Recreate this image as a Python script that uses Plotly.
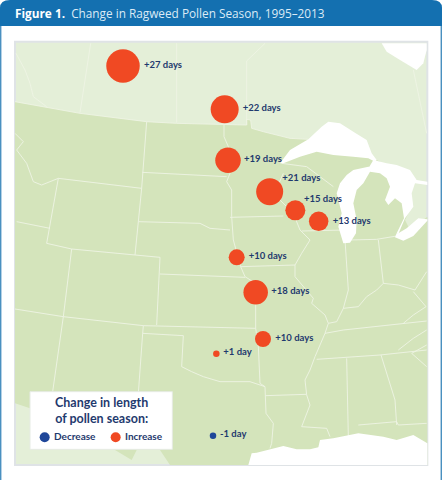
'''
ragweed pollen season map, drawn on a plain xy canvas (units are 1/3 of a pixel)
'''
import plotly.graph_objects as go

### SITES ###
site_names = ['Saskatoon', 'Winnipeg', 'Fargo', 'Minneapolis', 'La Crosse', 'Madison',
              'Omaha', 'Kansas City', 'Rogers', 'Oklahoma City', 'Georgetown']
site_days = [27, 22, 19, 21, 15, 13, 10, 18, 10, 1, -1]
site_labels = ['+27 days', '+22 days', '+19 days', '+21 days', '+15 days', '+13 days',
               '+10 days', '+18 days', '+10 days', '+1 day', '-1 day']
site_x = [369, 674, 684, 809, 886, 956, 710, 767, 789, 649, 639]
site_y = [198, 328, 481, 575, 631, 664, 772, 877, 1017, 1061, 1307]
site_diameter = [33.5, 28, 25.5, 27, 20, 19.5, 16, 24.5, 16, 6.5, 6.5]
label_x = [432, 728, 732, 847, 912, 998, 746, 814, 826, 670, 660]
label_y = [198, 327, 480, 537, 598, 664, 771, 876, 1016, 1059, 1305]

### LAND AND WATER OUTLINES ###
us_x = [45, 240, 440, 530, 740, 740, 752, 755, 790, 830, 870, 925, 965, 1100, 1125, 1160, 1200,
        1225, 1215, 1230, 1282, 1282, 510, 480, 410, 395, 345, 90, 45]
us_y = [305, 340, 365, 370, 375, 358, 360, 385, 395, 405, 415, 418, 440, 460, 478, 495, 560,
        640, 660, 690, 650, 1395, 1395, 1350, 1350, 1380, 1350, 1225, 1210]
superior_x = [840, 870, 925, 965, 985, 1020, 1060, 1100, 1115, 1130, 1125, 1105, 1060, 1000, 950, 900, 850]
superior_y = [490, 450, 418, 380, 365, 370, 395, 420, 460, 480, 485, 475, 470, 465, 455, 470, 490]
michigan_huron_x = [1105, 1060, 1040, 1020, 1010, 1020, 1025, 1015, 1030, 1050, 1068, 1070, 1060,
                    1070, 1090, 1110, 1140, 1160, 1170, 1155, 1165, 1185, 1205, 1212, 1190, 1195,
                    1215, 1240, 1235, 1245, 1282, 1282, 1250, 1230, 1190, 1160, 1120, 1108]
michigan_huron_y = [500, 510, 525, 550, 580, 615, 640, 680, 730, 728, 700, 660, 610,
                    570, 550, 515, 520, 535, 560, 600, 615, 595, 610, 655, 700, 702,
                    655, 620, 580, 550, 555, 545, 540, 510, 495, 490, 480, 500]
erie_x = [1190, 1185, 1210, 1240, 1282, 1282, 1255, 1220, 1195]
erie_y = [700, 712, 722, 708, 662, 658, 655, 685, 700]
hudson_x = [1145, 1160, 1200, 1250, 1270, 1280, 1280]
hudson_y = [130, 155, 180, 210, 190, 150, 130]
gulf_x = [745, 755, 770, 800, 850, 890, 930, 955, 960, 1000, 1075, 1150, 1190, 1240, 1282, 1282]
gulf_y = [1395, 1360, 1358, 1350, 1338, 1348, 1348, 1342, 1320, 1315, 1300, 1310, 1320, 1305, 1330, 1395]

### BORDERS ###
borders = [
    # canada
    ([48, 75, 90, 100, 140], [160, 210, 250, 290, 320]),
    ([272, 240], [130, 338]),
    ([530, 530], [130, 368]),
    ([795, 740, 740], [130, 183, 375]),
    ([1240, 1280], [210, 400]),
    # us-canada line
    ([45, 240, 440, 530, 740, 740, 752, 755, 790, 830, 870, 925], [305, 340, 365, 370, 375, 358, 360, 385, 395, 405, 415, 418]),
    # west
    ([45, 70, 50, 80, 100, 125, 150, 175], [400, 425, 450, 490, 545, 555, 545, 535]),
    ([175, 425], [535, 565]),
    ([175, 150, 140, 215], [535, 680, 730, 747]),
    ([50, 150], [665, 685]),
    ([215, 405, 480], [747, 765, 772]),
    ([215, 190, 158], [747, 950, 1175]),
    ([45, 190, 430, 767], [927, 950, 977, 985]),
    ([440, 425, 415, 405], [365, 565, 665, 765]),
    ([427, 680], [517, 530]),
    ([415, 600, 630, 690], [665, 670, 685, 690]),
    ([480, 470], [772, 975]),
    ([480, 735], [822, 832]),
    # oklahoma and texas
    ([430, 428, 550, 545, 575, 610, 660, 700, 750, 795], [977, 1000, 1007, 1100, 1115, 1130, 1145, 1145, 1145, 1160]),
    ([428, 415], [1000, 1180]),
    ([767, 767, 775, 780, 795, 798, 820, 815, 810], [850, 985, 1040, 1150, 1160, 1240, 1270, 1330, 1345]),
    ([797, 918], [1187, 1183]),
    # upper midwest
    ([672, 672, 685, 690, 680, 695, 695, 700, 722, 735, 767], [375, 410, 440, 520, 545, 570, 650, 720, 800, 830, 850]),
    ([690, 850], [652, 648]),
    ([850, 840, 830, 840, 880, 900, 930, 905, 885, 885, 910, 940, 935, 975, 985, 975, 945, 930, 915, 920, 930, 905, 980, 990],
     [520, 540, 565, 600, 640, 690, 720, 760, 795, 830, 860, 895, 910, 945, 970, 1000, 1070, 1110, 1140, 1185, 1215, 1280, 1285, 1310]),
    ([722, 885], [800, 795]),
    ([845, 920, 960, 1000], [490, 500, 530, 560]),
    ([905, 1035], [693, 690]),
    ([1035, 1045, 1030, 1010, 985], [720, 870, 925, 965, 970]),
    ([1030, 1075, 1100, 1130, 1150, 1195, 1245, 1270, 1280], [925, 920, 890, 870, 850, 855, 870, 830, 815]),
    ([1045, 1130, 1190], [720, 718, 708]),
    ([1135, 1150], [720, 850]),
    # south
    ([975, 1030, 1280], [1000, 990, 963]),
    ([950, 1140, 1280], [1078, 1065, 1050]),
    ([1040, 1045], [1075, 1310]),
    ([1143, 1185, 1190], [1065, 1200, 1275]),
    ([1075, 1190, 1195, 1280], [1275, 1265, 1275, 1270]),
    ([1240, 1278, 1240, 1210], [875, 920, 945, 970]),
    ([1280, 1240, 1195], [990, 1015, 1050]),
    ([1235, 1280], [1060, 1100]),
    ([1235, 1280], [1060, 1035]),
]

### LEGEND ###
legend_box_x = [90, 517, 517, 90, 90]
legend_box_y = [1175, 1175, 1348, 1348, 1175]
legend_names = ['Decrease', 'Increase']
legend_x = [134, 347]
legend_y = [1312, 1312]
legend_text_x = [162, 375]

ORANGE = '#f04923'
NAVY = '#1f3a6e'
NAME_FONT = 'Lato, Roboto, sans-serif'

def add_area(fig: go.Figure, xs: list, ys: list, colour: str) -> None:
    '''
    adds a filled outline to the figure
        arguments:
            fig: the figure
            xs: x values of the outline
            ys: y values of the outline
            colour: the fill colour
        returns:
            None
    '''
    fig.add_trace(go.Scatter(x=xs, y=ys, mode='lines', fill='toself', fillcolor=colour,
                             line={'width': 0}, hoverinfo='skip'))

fig = go.Figure()

### MAP ###
add_area(fig, us_x, us_y, '#d4e4bb')
border_x, border_y = [], []
for line_x, line_y in borders:
    border_x += line_x + [None]
    border_y += line_y + [None]
fig.add_trace(go.Scatter(x=border_x, y=border_y, mode='lines',
                         line={'color': '#eef4e4', 'width': 0.9}, hoverinfo='skip'))
for lake_x, lake_y in [(superior_x, superior_y), (michigan_huron_x, michigan_huron_y),
                       (erie_x, erie_y), (hudson_x, hudson_y), (gulf_x, gulf_y)]:
    add_area(fig, lake_x, lake_y, 'white')

### SITES ###
fig.add_trace(go.Scatter(
    x=site_x, y=site_y, mode='markers', customdata=site_days, hovertext=site_names,
    marker={'size': site_diameter, 'opacity': 1, 'line': {'width': 0},
            'color': [ORANGE if days > 0 else '#1f4799' for days in site_days]},
    ))
fig.add_trace(go.Scatter(
    x=label_x, y=label_y, mode='text', text=site_labels, textposition='middle right',
    textfont={'family': NAME_FONT, 'size': 9.5, 'color': NAVY, 'weight': 'bold'}, hoverinfo='skip',
    ))

### LEGEND ###
fig.add_trace(go.Scatter(x=legend_box_x, y=legend_box_y, mode='lines', fill='toself',
                         fillcolor='white', line={'color': '#e6ebe4', 'width': 1}, hoverinfo='skip'))
fig.add_trace(go.Scatter(x=legend_x, y=legend_y, mode='markers', hoverinfo='skip',
                         marker={'size': 10, 'opacity': 1, 'color': ['#1f4799', ORANGE], 'line': {'width': 0}}))
fig.add_trace(go.Scatter(
    x=legend_text_x, y=legend_y, mode='text', text=legend_names, textposition='middle right',
    textfont={'family': NAME_FONT, 'size': 10, 'color': NAVY, 'weight': 'bold'}, hoverinfo='skip',
    ))

fig.add_annotation(
    x=303, y=1230, text='<b>Change in length<br>of pollen season:</b>', showarrow=False,
    font={'family': NAME_FONT, 'size': 12.5, 'color': NAVY}, align='center',
    )

### HEADER AND FRAME ###
fig.add_annotation(
    x=45, y=39, xanchor='left', xshift=-2, showarrow=False,
    text='<b>Figure 1.</b>  <span style="color:#dcebf6">Change in Ragweed Pollen Season, 1995–2013</span>',
    font={'family': 'Open Sans, sans-serif', 'size': 11.8, 'color': 'white'},
    )
fig.update_layout(
    width=442, height=480, margin={'l': 0, 'r': 0, 't': 0, 'b': 0}, showlegend=False,
    paper_bgcolor='white', plot_bgcolor='white',
    xaxis={'range': [0, 1326], 'visible': False, 'fixedrange': True},
    yaxis={'range': [1440, 0], 'visible': False, 'fixedrange': True},
    shapes=[
        {'type': 'rect', 'x0': 45, 'x1': 1282, 'y0': 125, 'y1': 1395, 'layer': 'below',
         'fillcolor': '#e4efd8', 'line': {'color': '#dfe3e6', 'width': 2}},
        {'type': 'path', 'layer': 'above', 'fillcolor': '#1470b0', 'line': {'width': 0},
         'path': 'M 0 78 L 0 24 Q 0 0 30 0 L 1296 0 Q 1326 0 1326 24 L 1326 78 Z'},
        {'type': 'line', 'x0': 2, 'x1': 2, 'y0': 78, 'y1': 1440, 'layer': 'above',
         'line': {'color': '#4a90c0', 'width': 1.5}},
        {'type': 'line', 'x0': 1324, 'x1': 1324, 'y0': 78, 'y1': 1440, 'layer': 'above',
         'line': {'color': '#4a90c0', 'width': 1.5}},
    ],
    )

# the page default margin would push the chart out of the window
fig.write_html("out.html", config={'displayModeBar': False},
               post_script='document.body.style.margin = "0";')
